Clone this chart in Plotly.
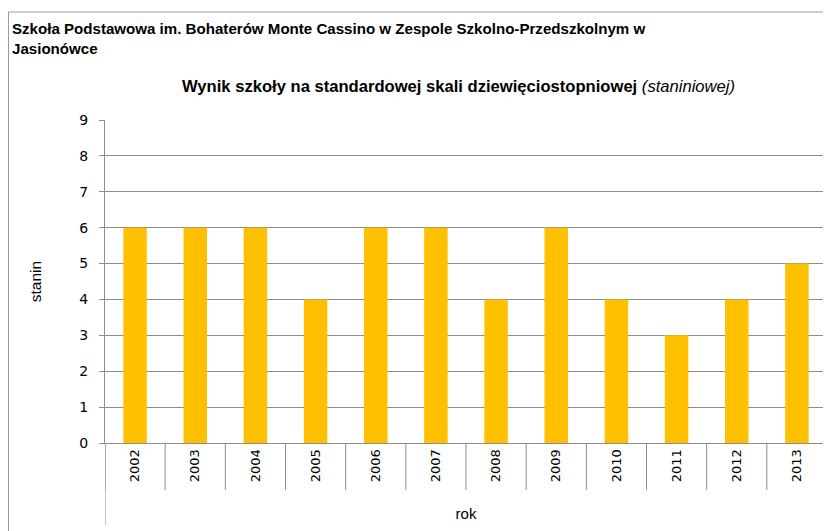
import plotly.graph_objects as go

years = ["2002", "2003", "2004", "2005", "2006", "2007", "2008", "2009", "2010", "2011", "2012", "2013"]
stanin = [6, 6, 6, 4, 6, 6, 4, 6, 4, 3, 4, 5]
y_ticks = list(range(0, 10))

W, H = 831, 531
OFF = 8  # page body margin
L, R, T, B = 105 - OFF, 4 + OFF, 120 - OFF, 88 + OFF
pw = W - L - R
ph = H - T - B

def px_x(x):  # page pixel -> paper
    return (x - OFF - L) / pw

def px_y(y):
    return (H - B - (y - OFF)) / ph

grid = "#8c8c8c"
fig = go.Figure(go.Bar(x=years, y=stanin, marker=dict(color="#FFC000", line=dict(width=0)), width=0.39))

shapes = []
for i in range(len(years) + 1):
    shapes.append(dict(type="line", xref="x", yref="paper", x0=i - 0.5, x1=i - 0.5,
                       y0=0, y1=px_y(490), line=dict(color=grid, width=1)))
shapes.append(dict(type="line", xref="x", yref="paper", x0=-0.5, x1=-0.5,
                   y0=0, y1=px_y(525), line=dict(color=grid, width=1)))
shapes.append(dict(type="line", xref="x", yref="paper", x0=len(years) - 0.5, x1=len(years) - 0.5,
                   y0=0, y1=px_y(525), line=dict(color=grid, width=1)))
shapes.append(dict(type="line", xref="paper", yref="paper", x0=px_x(8.5), x1=px_x(8.5),
                   y0=px_y(12), y1=px_y(560), line=dict(color="#9a9a9a", width=1)))
shapes.append(dict(type="line", xref="paper", yref="paper", x0=px_x(8.5), x1=px_x(860),
                   y0=px_y(12), y1=px_y(12), line=dict(color="#9a9a9a", width=1)))

annotations = [
    dict(xref="paper", yref="paper", x=px_x(10), y=px_y(28), xanchor="left", yanchor="middle",
         text="<b>Szkoła Podstawowa im. Bohaterów Monte Cassino w Zespole Szkolno-Przedszkolnym w</b>",
         showarrow=False, font=dict(family="Liberation Sans", size=15.1, color="black")),
    dict(xref="paper", yref="paper", x=px_x(10), y=px_y(48), xanchor="left", yanchor="middle",
         text="<b>Jasionówce</b>",
         showarrow=False, font=dict(family="Liberation Sans", size=15.1, color="black")),
    dict(xref="paper", yref="paper", x=px_x(458), y=px_y(87), xanchor="center", yanchor="middle",
         text="<b>Wynik szkoły na standardowej skali dziewięciostopniowej</b> <i>(staniniowej)</i>",
         showarrow=False, font=dict(family="Liberation Sans", size=16.6, color="black")),
]

fig.update_layout(
    width=W, height=H,
    margin=dict(l=L, r=R, t=T, b=B, pad=0),
    paper_bgcolor="white", plot_bgcolor="white",
    showlegend=False,
    shapes=shapes,
    annotations=annotations,
    xaxis=dict(type="category", tickangle=-90, ticks="", showgrid=False,
               showline=True, linecolor=grid, linewidth=1,
               tickfont=dict(family="DejaVu Sans", size=13, color="black"),
               title=dict(text="rok", font=dict(family="Liberation Sans", size=15, color="black"), standoff=27),
               range=[-0.5, len(years) - 0.5]),
    yaxis=dict(range=[0, 9], tickvals=y_ticks, showgrid=True, gridcolor=grid, gridwidth=1,
               showline=True, linecolor=grid, linewidth=1, ticks="outside", ticklen=5, tickcolor=grid,
               ticklabelstandoff=8,
               tickfont=dict(family="DejaVu Sans", size=14, color="black"), zeroline=False,
               title=dict(text="stanin", font=dict(family="Liberation Sans", size=15.5, color="black"), standoff=33)),
)

fig.write_html("out.html")
